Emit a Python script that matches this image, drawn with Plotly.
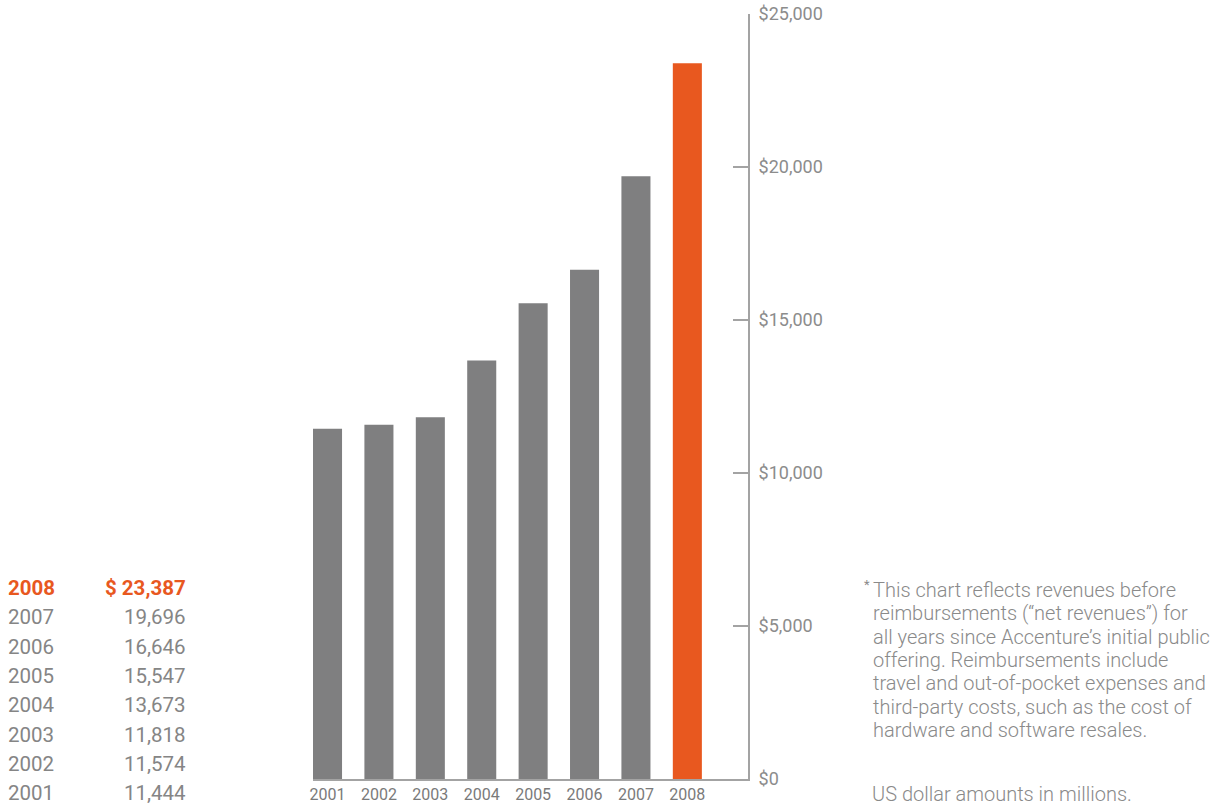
import plotly.graph_objects as go

years = ["2001", "2002", "2003", "2004", "2005", "2006", "2007", "2008"]
revenues = [11444, 11574, 11818, 13673, 15547, 16646, 19696, 23387]
y_ticks = [0, 5000, 10000, 15000, 20000, 25000]
y_tick_labels = ["$0", "$5,000", "$10,000", "$15,000", "$20,000", "$25,000"]
footnote_lines = [
    "This chart reflects revenues before",
    "reimbursements (\u201cnet revenues\u201d) for",
    "all years since Accenture\u2019s initial public",
    "offering. Reimbursements include",
    "travel and out-of-pocket expenses and",
    "third-party costs, such as the cost of",
    "hardware and software resales.",
]
units_note = "US dollar amounts in millions."

GRAY = "#7f7f80"
ORANGE = "#e8581f"
TEXT = "#8a8a8a"
AXIS = "#a3a3a3"
FONT = "Roboto"

W, H = 1218, 808
L, R, T, B = 313, 470, 14, 29
PW, PH = W - L - R, H - T - B


def px(x):
    return (x - L) / PW


def py(y):
    return (H - B - y) / PH


colors = [GRAY] * (len(years) - 1) + [ORANGE]
xs = list(range(len(years)))

fig = go.Figure()
fig.add_trace(go.Bar(
    x=xs, y=revenues, width=0.565,
    marker=dict(color=colors, line=dict(width=0)),
    hoverinfo="skip",
))

fig.update_layout(
    width=W, height=H,
    margin=dict(l=L, r=R, t=T, b=B, pad=0, autoexpand=False),
    paper_bgcolor="white", plot_bgcolor="white",
    showlegend=False,
    font=dict(family=FONT, color=TEXT),
    xaxis=dict(
        range=[-0.2825, 8.18],
        tickmode="array", tickvals=xs, ticktext=years,
        showgrid=False, zeroline=False, automargin=False,
        showline=True, linecolor=AXIS, linewidth=2,
        ticks="", tickfont=dict(size=16, color="#7a7a7a", family=FONT),
        fixedrange=True,
    ),
    yaxis=dict(
        range=[0, 25000], side="right",
        tickmode="array", tickvals=y_ticks, ticktext=y_tick_labels,
        showgrid=False, zeroline=False, automargin=False,
        showline=True, linecolor=AXIS, linewidth=2,
        ticks="inside", ticklen=15, tickwidth=2, tickcolor=AXIS,
        ticklabelstandoff=5,
        tickfont=dict(size=18, color="#8c8c8c", family=FONT),
        fixedrange=True,
    ),
)

# Left value table
row_y0 = 588
row_step = 29.3
n = len(years)
for i in range(n):
    idx = n - 1 - i
    yr = years[idx]
    val = revenues[idx]
    is_last = idx == n - 1
    col = ORANGE if is_last else "#858585"
    txt = f"$ {val:,}" if is_last else f"{val:,}"
    ypx = row_y0 + i * row_step
    fig.add_annotation(x=px(7), y=py(ypx), xref="paper", yref="paper",
                       text=(f"<b>{yr}</b>" if is_last else yr), showarrow=False,
                       xanchor="left", yanchor="middle", borderpad=0,
                       font=dict(size=20.5, color=col, family=FONT))
    fig.add_annotation(x=px(187), y=py(ypx), xref="paper", yref="paper",
                       text=(f"<b>{txt}</b>" if is_last else txt), showarrow=False,
                       xanchor="right", yanchor="middle", borderpad=0,
                       font=dict(size=20.5, color=col, family=FONT))

# Footnote
note_x = 871
note_y0 = 590
note_step = 23.3
for i, line in enumerate(footnote_lines):
    ypx = note_y0 + i * note_step
    fig.add_annotation(x=px(note_x), y=py(ypx), xref="paper", yref="paper",
                       text=line, showarrow=False, xanchor="left", yanchor="middle",
                       font=dict(size=20, color=TEXT, family=FONT, weight=300))
fig.add_annotation(x=px(862), y=py(584), xref="paper", yref="paper",
                   text="*", showarrow=False, xanchor="left", yanchor="middle",
                   font=dict(size=13, color=TEXT, family=FONT))
fig.add_annotation(x=px(note_x), y=py(794), xref="paper", yref="paper",
                   text=units_note, showarrow=False, xanchor="left", yanchor="middle",
                   borderpad=0,
                   font=dict(size=20, color=TEXT, family=FONT, weight=300))

fig.write_html("out.html", config={"displayModeBar": False})
